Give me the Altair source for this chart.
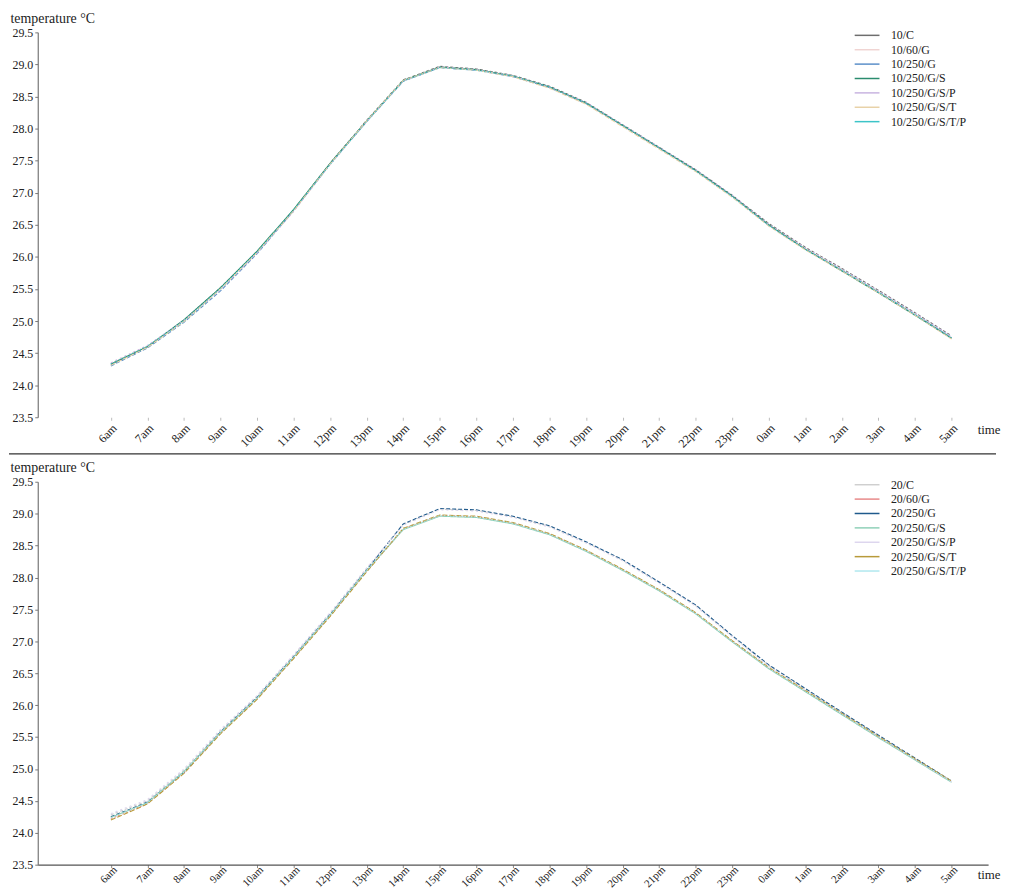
import altair as alt
import pandas as pd

hours = ["6am", "7am", "8am", "9am", "10am", "11am", "12pm", "13pm", "14pm", "15pm",
         "16pm", "17pm", "18pm", "19pm", "20pm", "21pm", "22pm", "23pm", "0am", "1am",
         "2am", "3am", "4am", "5am"]

# ---- panel 1 (10 ...) ----
names_10 = ["10/C", "10/60/G", "10/250/G", "10/250/G/S", "10/250/G/S/P", "10/250/G/S/T", "10/250/G/S/T/P"]
s10_C = [24.32, 24.60, 25.01, 25.52, 26.08, 26.73, 27.46, 28.13, 28.76, 28.97, 28.93, 28.83, 28.66, 28.41, 28.06, 27.71, 27.36, 26.96, 26.52, 26.15, 25.82, 25.48, 25.13, 24.77]
s10_60G = [24.34, 24.61, 25.00, 25.50, 26.06, 26.71, 27.44, 28.12, 28.75, 28.96, 28.92, 28.82, 28.64, 28.39, 28.04, 27.69, 27.34, 26.94, 26.50, 26.13, 25.80, 25.46, 25.11, 24.75]
s10_250G = [24.30, 24.58, 24.98, 25.47, 26.05, 26.72, 27.45, 28.11, 28.74, 28.95, 28.91, 28.81, 28.64, 28.39, 28.05, 27.70, 27.35, 26.95, 26.49, 26.12, 25.79, 25.45, 25.10, 24.74]
s10_GS = [24.33, 24.60, 25.02, 25.52, 26.09, 26.74, 27.46, 28.12, 28.75, 28.96, 28.92, 28.82, 28.65, 28.40, 28.05, 27.70, 27.35, 26.95, 26.50, 26.12, 25.78, 25.44, 25.09, 24.73]
s10_GSP = [24.35, 24.62, 25.01, 25.49, 26.06, 26.71, 27.44, 28.11, 28.74, 28.96, 28.92, 28.82, 28.65, 28.41, 28.06, 27.71, 27.36, 26.96, 26.51, 26.14, 25.81, 25.47, 25.12, 24.76]
s10_GST = [24.31, 24.59, 24.99, 25.50, 26.07, 26.72, 27.45, 28.12, 28.75, 28.95, 28.91, 28.81, 28.63, 28.38, 28.03, 27.68, 27.33, 26.93, 26.48, 26.11, 25.78, 25.44, 25.09, 24.72]
s10_GSTP = [24.33, 24.61, 25.00, 25.51, 26.08, 26.73, 27.44, 28.11, 28.74, 28.95, 28.91, 28.82, 28.65, 28.40, 28.05, 27.70, 27.34, 26.94, 26.49, 26.12, 25.79, 25.45, 25.10, 24.74]
colors_10 = ["#6e6e6e", "#f0d4d2", "#5b8fc9", "#2a8c6e", "#c8b4e0", "#e8d2a8", "#3cc4c8"]

# ---- panel 2 (20 ...) ----
names_20 = ["20/C", "20/60/G", "20/250/G", "20/250/G/S", "20/250/G/S/P", "20/250/G/S/T", "20/250/G/S/T/P"]
s20_C = [24.28, 24.50, 24.98, 25.60, 26.14, 26.78, 27.44, 28.14, 28.83, 29.07, 29.05, 28.95, 28.80, 28.55, 28.27, 27.92, 27.56, 27.08, 26.62, 26.25, 25.88, 25.52, 25.16, 24.81]
s20_60G = [24.22, 24.46, 24.94, 25.56, 26.10, 26.74, 27.40, 28.10, 28.76, 28.97, 28.95, 28.85, 28.68, 28.42, 28.12, 27.80, 27.44, 27.00, 26.58, 26.22, 25.86, 25.50, 25.15, 24.80]
s20_250G = [24.25, 24.48, 24.95, 25.58, 26.12, 26.76, 27.42, 28.12, 28.84, 29.08, 29.06, 28.96, 28.81, 28.56, 28.28, 27.93, 27.57, 27.09, 26.63, 26.26, 25.89, 25.53, 25.17, 24.81]
s20_GS = [24.24, 24.47, 24.96, 25.57, 26.11, 26.75, 27.41, 28.11, 28.75, 28.96, 28.94, 28.84, 28.67, 28.41, 28.11, 27.79, 27.43, 26.99, 26.57, 26.21, 25.85, 25.49, 25.14, 24.79]
s20_GSP = [24.30, 24.52, 25.00, 25.62, 26.15, 26.79, 27.45, 28.15, 28.82, 29.06, 29.04, 28.94, 28.79, 28.54, 28.26, 27.91, 27.55, 27.07, 26.61, 26.24, 25.87, 25.51, 25.15, 24.80]
s20_GST = [24.20, 24.45, 24.93, 25.55, 26.09, 26.73, 27.39, 28.09, 28.77, 28.98, 28.96, 28.86, 28.69, 28.43, 28.13, 27.81, 27.45, 27.01, 26.59, 26.23, 25.87, 25.51, 25.16, 24.81]
s20_GSTP = [24.23, 24.47, 24.95, 25.57, 26.11, 26.75, 27.41, 28.11, 28.76, 28.97, 28.95, 28.85, 28.68, 28.42, 28.12, 27.80, 27.44, 27.00, 26.58, 26.22, 25.86, 25.50, 25.15, 24.80]
colors_20 = ["#cfcfcf", "#e88a8a", "#1f5a8c", "#8fd0b8", "#ddd6ee", "#b89a3a", "#b0e8ee"]

dashes = [[3, 2], [2, 2], [4, 2], [1, 0], [2, 3], [5, 2], [1, 2]]

y_ticks = [23.5, 24.0, 24.5, 25.0, 25.5, 26.0, 26.5, 27.0, 27.5, 28.0, 28.5, 29.0, 29.5]

FONT = "Liberation Serif"
W = 958


def build_df(names, series):
    rows = []
    for n, vals in zip(names, series):
        for i, v in enumerate(vals):
            rows.append({"series": n, "dash": n + " ", "idx": i, "hour": hours[i], "temp": v})
    return pd.DataFrame(rows)


label_expr = "[" + ",".join("'%s'" % h for h in hours) + "][datum.value]"


def panel(names, series, colors, top, H):
    df = build_df(names, series)
    x_axis = alt.Axis(
        values=list(range(len(hours))), labelExpr=label_expr, labelAngle=-45,
        labelAlign="right", labelBaseline="top", labelPadding=2 if top else -4, labelFont=FONT,
        labelFontSize=12 if top else 11, labelColor="#222", grid=False,
        domain=not top, domainColor="#555", domainWidth=1.2,
        ticks=True, tickColor="#bbbbbb" if top else "#888", tickSize=3,
        title="time", titleFont=FONT, titleFontSize=13, titleFontWeight="normal",
        titleColor="#222", titleAngle=0, titleAlign="left", titleBaseline="middle",
        titleX=947, titleY=12 if top else 10,
    )
    y_axis = alt.Axis(
        values=y_ticks, format=".1f", labelFont=FONT, labelFontSize=12, labelColor="#222",
        grid=False, domainColor="#777", domainWidth=1.2, tickColor="#777", tickSize=3,
        title="temperature °C", titleFont=FONT, titleFontSize=14, titleFontWeight="normal",
        titleColor="#222", titleAngle=0, titleAlign="left", titleBaseline="middle",
        titleX=-28, titleY=-14,
    )
    lines = alt.Chart(df).mark_line(strokeWidth=1.1).encode(
        x=alt.X("idx:Q", scale=alt.Scale(domain=[-2, 24], nice=False, zero=False), axis=x_axis),
        y=alt.Y("temp:Q", scale=alt.Scale(domain=[23.5, 29.5], nice=False, zero=False), axis=y_axis),
        color=alt.Color("series:N", scale=alt.Scale(domain=names, range=colors), sort=names,
                        legend=alt.Legend(title=None, orient="none", legendX=830, legendY=-3,
                                          symbolType="M-2.5,0H2.5", symbolStrokeWidth=1.5,
                                          symbolSize=100, labelFont=FONT, labelFontSize=12,
                                          labelColor="#222", rowPadding=2.5, labelOffset=18)),
        strokeDash=alt.StrokeDash("dash:N", scale=alt.Scale(domain=[n + " " for n in names], range=dashes), legend=None),
        detail="series:N",
    )
    layers = [lines]
    if top:
        sep = alt.Chart(pd.DataFrame({"v": [0]})).mark_rule(color="#333", strokeWidth=1.3, clip=False).encode(
            x=alt.value(-29), x2=alt.value(966), y=alt.value(H + 37)
        )
        layers.append(sep)
    return alt.layer(*layers).properties(width=W, height=H)


top_chart = panel(names_10, [s10_C, s10_60G, s10_250G, s10_GS, s10_GSP, s10_GST, s10_GSTP], colors_10, True, 388)
bottom_chart = panel(names_20, [s20_C, s20_60G, s20_250G, s20_GS, s20_GSP, s20_GST, s20_GSTP], colors_20, False, 386)

chart = alt.vconcat(top_chart, bottom_chart, spacing=6).resolve_scale(
    color="independent", strokeDash="independent"
).configure(background="white", padding=0).configure_view(stroke=None)

chart.save("out.html", embed_options={"renderer": "svg", "actions": False})
